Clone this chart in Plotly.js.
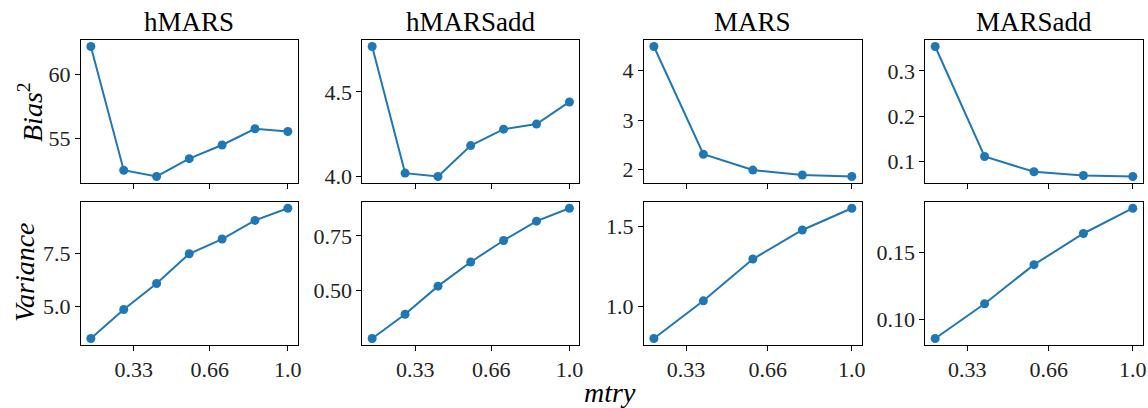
<!DOCTYPE html>
<html><head><meta charset="utf-8">
<script src="https://cdn.plot.ly/plotly-3.0.1.min.js"></script>
<style>html,body{margin:0;padding:0;background:#fff}</style>
</head><body><div id="chart" style="width:1148px;height:408px"></div>
<script>
const models = ["hMARS", "hMARSadd", "MARS", "MARSadd"];
const mtry7 = [0.143, 0.286, 0.429, 0.571, 0.714, 0.857, 1.0];
const mtry5 = [0.2, 0.4, 0.6, 0.8, 1.0];
const biasHMARS = [62.17, 52.55, 52.06, 53.45, 54.51, 55.77, 55.56];
const varHMARS = [3.46, 4.84, 6.08, 7.50, 8.20, 9.09, 9.67];
const biasHMARSadd = [4.769, 4.02, 4.0, 4.183, 4.28, 4.31, 4.441];
const varHMARSadd = [0.2825, 0.393, 0.521, 0.631, 0.729, 0.817, 0.876];
const biasMARS = [4.49, 2.31, 1.99, 1.89, 1.86];
const varMARS = [0.796, 1.033, 1.296, 1.479, 1.616];
const biasMARSadd = [0.3536, 0.111, 0.0773, 0.069, 0.0669];
const varMARSadd = [0.0855, 0.1115, 0.1407, 0.164, 0.1829];
const xTickVals = [0.33, 0.66, 1.0];
const xTickText = ["0.33", "0.66", "1.0"];
const biasTicks = [[55, 60], [4.0, 4.5], [2, 3, 4], [0.1, 0.2, 0.3]];
const biasTickText = [["55", "60"], ["4.0", "4.5"], ["2", "3", "4"], ["0.1", "0.2", "0.3"]];
const varTicks = [[5.0, 7.5], [0.50, 0.75], [1.0, 1.5], [0.10, 0.15]];
const varTickText = [["5.0", "7.5"], ["0.50", "0.75"], ["1.0", "1.5"], ["0.10", "0.15"]];

const xs = [mtry7, mtry7, mtry5, mtry5];
const biases = [biasHMARS, biasHMARSadd, biasMARS, biasMARSadd];
const vars = [varHMARS, varHMARSadd, varMARS, varMARSadd];

const W = 1148, H = 408;
const colPx = [[81, 297.7], [362.3, 579.3], [644, 861.7], [925.3, 1142.7]];
const rowPx = [[40, 183], [201.7, 345]];
const FONT = "Liberation Serif, Times New Roman, serif";
const blue = "#1f77b4";

function padRange(arr) {
  const lo = Math.min(...arr), hi = Math.max(...arr);
  const m = (hi - lo) * 0.05;
  return [lo - m, hi + m];
}

const data = [];
const layout = {
  width: W, height: H,
  margin: {l: 0, r: 0, t: 0, b: 0},
  paper_bgcolor: "#fff", plot_bgcolor: "#fff",
  showlegend: false,
  font: {family: FONT, color: "#000", size: 22},
  annotations: []
};

function axBase() {
  return {
    showgrid: false, zeroline: false,
    showline: true, mirror: true, linecolor: "#000", linewidth: 1,
    ticks: "outside", ticklen: 5, tickwidth: 1, tickcolor: "#000",
    tickfont: {family: FONT, size: 22, color: "#222"}
  };
}

for (let r = 0; r < 2; r++) {
  for (let c = 0; c < 4; c++) {
    const idx = r * 4 + c + 1;
    const sfx = idx === 1 ? "" : String(idx);
    const yv = r === 0 ? biases[c] : vars[c];
    data.push({
      x: xs[c], y: yv, type: "scatter", mode: "lines+markers",
      xaxis: "x" + sfx, yaxis: "y" + sfx,
      line: {color: blue, width: 2},
      marker: {color: blue, size: 9}
    });
    const xa = axBase();
    xa.domain = [colPx[c][0] / W, colPx[c][1] / W];
    xa.anchor = "y" + sfx;
    xa.range = padRange(xs[c]);
    xa.tickmode = "array";
    xa.tickvals = xTickVals;
    xa.ticktext = xTickText;
    xa.showticklabels = r === 1;
    const ya = axBase();
    ya.domain = [1 - rowPx[r][1] / H, 1 - rowPx[r][0] / H];
    ya.anchor = "x" + sfx;
    ya.range = padRange(yv);
    ya.tickmode = "array";
    ya.tickvals = r === 0 ? biasTicks[c] : varTicks[c];
    ya.ticktext = r === 0 ? biasTickText[c] : varTickText[c];
    layout["xaxis" + sfx] = xa;
    layout["yaxis" + sfx] = ya;
  }
}

for (let c = 0; c < 4; c++) {
  layout.annotations.push({
    text: models[c], xref: "paper", yref: "paper",
    x: (colPx[c][0] + colPx[c][1]) / 2 / W, y: 1 - 22 / H,
    xanchor: "center", yanchor: "middle", showarrow: false,
    font: {family: FONT, size: 27, color: "#000"}
  });
}
layout.annotations.push({
  text: "<i>Bias</i><sup>2</sup>", xref: "paper", yref: "paper",
  x: 30 / W, y: 1 - 112 / H, xanchor: "center", yanchor: "middle",
  textangle: -90, showarrow: false,
  font: {family: FONT, size: 28, color: "#000"}
});
layout.annotations.push({
  text: "<i>Variance</i>", xref: "paper", yref: "paper",
  x: 24 / W, y: 1 - 272 / H, xanchor: "center", yanchor: "middle",
  textangle: -90, showarrow: false,
  font: {family: FONT, size: 28, color: "#000"}
});
layout.annotations.push({
  text: "<i>mtry</i>", xref: "paper", yref: "paper",
  x: 610 / W, y: 1 - 392 / H, xanchor: "center", yanchor: "middle",
  showarrow: false,
  font: {family: FONT, size: 28, color: "#000"}
});

Plotly.newPlot("chart", data, layout, {staticPlot: true, displayModeBar: false});
</script></body></html>
